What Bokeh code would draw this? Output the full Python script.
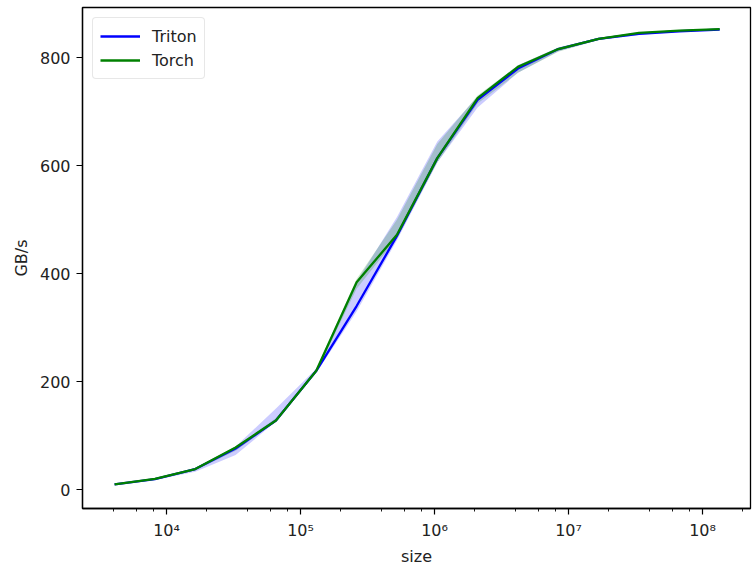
from bokeh.plotting import figure
from bokeh.models import Range1d, SingleIntervalTicker, LogTicker, CustomJSTickFormatter, Legend, LegendItem
from bokeh.embed import file_html
from bokeh.resources import INLINE

sizes = [4096, 8192, 16384, 32768, 65536, 131072, 262144, 524288, 1048576,
         2097152, 4194304, 8388608, 16777216, 33554432, 67108864, 134217728]
triton = [9.5, 19.5, 38, 76, 128, 220, 340, 470, 614, 722, 780, 816, 835, 844, 849, 852]
triton_min = [9, 18, 33, 64, 126, 216, 330, 462, 606, 708, 772, 812, 833, 842, 848, 851]
triton_max = [10, 21, 40, 80, 150, 224, 385, 505, 645, 728, 786, 819, 837, 846, 851, 854]
torch = [9.5, 20, 38, 78, 128, 220, 384, 472, 614, 725, 783, 816, 835, 846, 850, 853]
torch_min = [9, 19, 36, 72, 126, 217, 372, 466, 606, 715, 772, 811, 833, 844, 849, 852]
torch_max = [10, 21, 40, 80, 132, 223, 390, 500, 640, 730, 786, 819, 837, 847, 851, 854]

FONT = "DejaVu Sans"
FS = "16px"

p = figure(width=752, height=570, x_axis_type="log",
           output_backend="svg", toolbar_location=None,
           x_range=Range1d(2360, 2.28e8), y_range=Range1d(-35, 893),
           min_border_left=82, min_border_right=2, min_border_top=7, min_border_bottom=62)

p.varea(x=sizes, y1=triton_min, y2=triton_max, fill_color="#0000ff", fill_alpha=0.2)
p.varea(x=sizes, y1=torch_min, y2=torch_max, fill_color="#008000", fill_alpha=0.2)
r1 = p.line(sizes, triton, line_color="#0000ff", line_width=2.3)
r2 = p.line(sizes, torch, line_color="#008000", line_width=2.3)

p.xgrid.visible = False
p.ygrid.visible = False
p.outline_line_color = "black"
p.outline_line_width = 1.3
p.outline_line_alpha = 1

p.xaxis.ticker = LogTicker(desired_num_ticks=6)
p.xaxis.formatter = CustomJSTickFormatter(code="""
const sup = {'0':'\u2070','1':'\u00b9','2':'\u00b2','3':'\u00b3','4':'\u2074','5':'\u2075','6':'\u2076','7':'\u2077','8':'\u2078','9':'\u2079','-':'\u207b'};
const e = Math.round(Math.log10(tick));
return '10' + String(e).split('').map(c => sup[c]).join('');
""")
p.yaxis.ticker = SingleIntervalTicker(interval=200, num_minor_ticks=0)

for ax in (p.xaxis[0], p.yaxis[0]):
    ax.axis_line_color = "black"
    ax.axis_line_width = 1.3
    ax.major_tick_line_color = "black"
    ax.major_tick_line_width = 1.2
    ax.minor_tick_line_color = "black"
    ax.minor_tick_line_width = 0.9
    ax.major_tick_out = 6
    ax.major_tick_in = 0
    ax.minor_tick_out = 3
    ax.minor_tick_in = 0
    ax.major_label_text_font = FONT
    ax.major_label_text_font_size = FS
    ax.major_label_text_color = "#222222"
    ax.axis_label_text_font = FONT
    ax.axis_label_text_font_size = FS
    ax.axis_label_text_font_style = "normal"
    ax.axis_label_text_color = "#222222"

p.yaxis.minor_tick_line_color = None
p.xaxis.axis_label = "size"
p.yaxis.axis_label = "GB/s"
p.xaxis.major_label_standoff = 6
p.yaxis.major_label_standoff = 6
p.xaxis.axis_label_standoff = 4
p.yaxis.axis_label_standoff = 6

legend = Legend(items=[LegendItem(label="Triton", renderers=[r1]),
                       LegendItem(label="Torch", renderers=[r2])],
                location="top_left")
legend.label_text_font = FONT
legend.label_text_font_size = FS
legend.label_text_color = "#222222"
legend.glyph_width = 40
legend.glyph_height = 22
legend.label_standoff = 12
legend.spacing = 2
legend.padding = 7
legend.margin = 10
legend.border_line_color = "#d0d0d0"
legend.border_line_width = 1
legend.border_radius = 4
legend.background_fill_alpha = 0.8
p.add_layout(legend)

open("out.html", "w").write(file_html(p, INLINE))
